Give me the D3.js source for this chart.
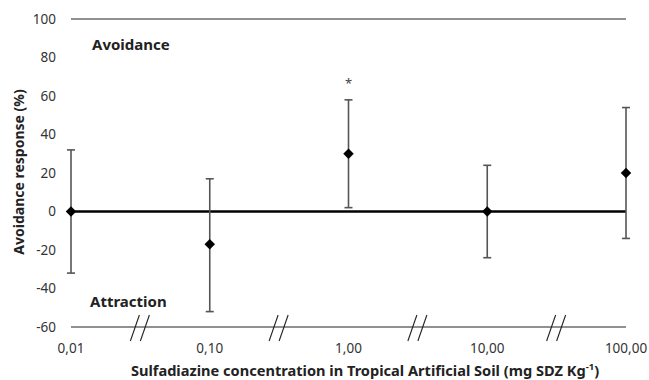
<!DOCTYPE html>
<html><head><meta charset="utf-8">
<script src="https://cdn.jsdelivr.net/npm/d3@7"></script>
<style>body{margin:0;background:#fff}svg{display:block;font-family:"Noto Sans","DejaVu Sans",sans-serif}</style>
</head><body><svg id="c" width="649" height="380"></svg>
<script>
const categories = ["0,01","0,10","1,00","10,00","100,00"];
const means = [0, -17, 30, 0, 20];
const upper = [32, 17, 58, 24, 54];
const lower = [-32, -52, 2, -24, -14];
const yTicks = [-60, -40, -20, 0, 20, 40, 60, 80, 100];
const significance = ["", "", "*", "", ""];

const svg = d3.select("#c");
const x = d3.scalePoint().domain(categories).range([71, 626]);
const y = d3.scaleLinear().domain([-60, 100]).range([327, 19]);

svg.append("line").attr("x1", x.range()[0]).attr("x2", x.range()[1])
  .attr("y1", y(100)).attr("y2", y(100)).attr("stroke", "#222").attr("stroke-width", 1.2);
svg.append("line").attr("x1", x.range()[0]).attr("x2", x.range()[1])
  .attr("y1", y(-60)).attr("y2", y(-60)).attr("stroke", "#222").attr("stroke-width", 1.2);
const mids = categories.slice(0, -1).map((c, i) => (x(c) + x(categories[i + 1])) / 2);
mids.forEach(m => {
  [-5, 5].forEach(dx => {
    svg.append("line").attr("x1", m + dx - 5).attr("y1", y(-60) + 14)
      .attr("x2", m + dx + 4).attr("y2", y(-60) - 12)
      .attr("stroke", "#222").attr("stroke-width", 1.1);
  });
});

svg.append("g").selectAll("text").data(yTicks).join("text")
  .attr("x", 56).attr("y", d => y(d)).attr("dy", "0.35em").attr("text-anchor", "end")
  .attr("font-size", 13.5).attr("fill", "#333").text(d => d);

svg.append("g").selectAll("text").data(categories).join("text")
  .attr("x", d => x(d)).attr("y", 353).attr("text-anchor", "middle")
  .attr("font-size", 13.5).attr("fill", "#333").text(d => d);

svg.append("line").attr("x1", x.range()[0]).attr("x2", x.range()[1])
  .attr("y1", y(0)).attr("y2", y(0)).attr("stroke", "#000").attr("stroke-width", 2.5);

const eb = svg.append("g").attr("stroke", "#555").attr("stroke-width", 1.6);
categories.forEach((c, i) => {
  eb.append("line").attr("x1", x(c)).attr("x2", x(c)).attr("y1", y(upper[i])).attr("y2", y(lower[i]));
  eb.append("line").attr("x1", x(c) - 4).attr("x2", x(c) + 4).attr("y1", y(upper[i])).attr("y2", y(upper[i]));
  eb.append("line").attr("x1", x(c) - 4).attr("x2", x(c) + 4).attr("y1", y(lower[i])).attr("y2", y(lower[i]));
});

svg.append("g").selectAll("path").data(categories).join("path")
  .attr("d", d3.symbol().type(d3.symbolDiamond2).size(70))
  .attr("transform", (d, i) => `translate(${x(d)},${y(means[i])})`)
  .attr("fill", "#000");

svg.append("g").selectAll("text").data(categories).join("text")
  .attr("x", d => x(d)).attr("y", (d, i) => y(upper[i]) - 12)
  .attr("text-anchor", "middle").attr("font-size", 13).attr("fill", "#444")
  .text((d, i) => significance[i]);

svg.append("text").attr("x", 92).attr("y", 50).attr("font-size", 15).attr("font-weight", "bold").attr("fill", "#222").text("Avoidance");
svg.append("text").attr("x", 90).attr("y", 307).attr("font-size", 15).attr("font-weight", "bold").attr("fill", "#222").text("Attraction");

svg.append("text").attr("transform", `translate(24,172) rotate(-90)`)
  .attr("text-anchor", "middle").attr("font-size", 14).attr("font-weight", "bold").attr("fill", "#222")
  .text("Avoidance response (%)");
const xt = svg.append("text").attr("x", 365).attr("y", 376).attr("text-anchor", "middle")
  .attr("font-size", 14.6).attr("font-weight", "bold").attr("fill", "#222");
xt.append("tspan").text("Sulfadiazine concentration in Tropical Artificial Soil (mg SDZ Kg");
xt.append("tspan").attr("font-size", 9.5).attr("dy", -6).text("-1");
xt.append("tspan").attr("dy", 6).text(")");
</script></body></html>
